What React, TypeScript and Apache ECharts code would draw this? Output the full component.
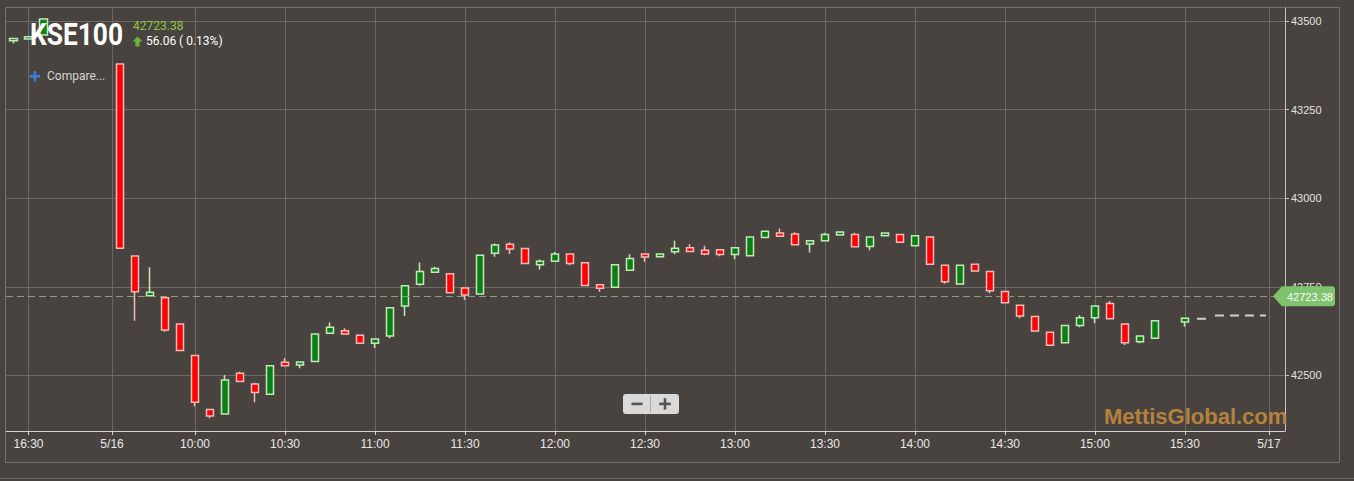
import React, { useEffect, useRef } from 'react';
import * as echarts from 'echarts';

// ---------- texts ----------
const TITLE = 'KSE100';
const LAST_PRICE = 42723.38;
const LAST_PRICE_TEXT = '42723.38';
const CHANGE_TEXT = '56.06 ( 0.13%)';
const COMPARE_TEXT = 'Compare...';
const WATERMARK = 'MettisGlobal.com';

// ---------- previous session candles ----------
const prevTimes = ['16:25', '16:30', '16:35'];
const prevOpen = [43445, 43450, 43461];
const prevClose = [43451, 43456, 43506];
const prevLow = [43437, 43450, 43461];
const prevHigh = [43451, 43456, 43506];

// ---------- 5/16 session candles (5-minute) ----------
const dayTimes = [
  '9:35', '9:40', '9:45', '9:50', '9:55', '10:00', '10:05', '10:10', '10:15', '10:20',
  '10:25', '10:30', '10:35', '10:40', '10:45', '10:50', '10:55', '11:00', '11:05', '11:10',
  '11:15', '11:20', '11:25', '11:30', '11:35', '11:40', '11:45', '11:50', '11:55', '12:00',
  '12:05', '12:10', '12:15', '12:20', '12:25', '12:30', '12:35', '12:40', '12:45', '12:50',
  '12:55', '13:00', '13:05', '13:10', '13:15', '13:20', '13:25', '13:30', '13:35', '13:40',
  '13:45', '13:50', '13:55', '14:00', '14:05', '14:10', '14:15', '14:20', '14:25', '14:30',
  '14:35', '14:40', '14:45', '14:50', '14:55', '15:00', '15:05', '15:10', '15:15', '15:20',
  '15:30',
];
const dayOpen = [
  43379, 42837, 42725, 42719, 42645, 42556, 42404, 42391, 42506, 42476,
  42447, 42537, 42529, 42539, 42619, 42626, 42613, 42591, 42611, 42696,
  42757, 42791, 42787, 42747, 42730, 42845, 42870, 42858, 42812, 42822,
  42843, 42818, 42756, 42749, 42797, 42843, 42835, 42849, 42860, 42853,
  42855, 42841, 42838, 42889, 42902, 42899, 42871, 42880, 42896, 42898,
  42864, 42894, 42898, 42866, 42891, 42811, 42758, 42814, 42793, 42737,
  42698, 42666, 42622, 42592, 42641, 42663, 42703, 42645, 42595, 42605,
  42651,
];
const dayClose = [
  42859, 42736, 42735, 42628, 42570, 42424, 42385, 42487, 42483, 42452,
  42527, 42527, 42538, 42617, 42636, 42617, 42591, 42603, 42691, 42753,
  42793, 42802, 42733, 42727, 42839, 42868, 42857, 42816, 42822, 42843,
  42816, 42754, 42746, 42812, 42830, 42834, 42843, 42859, 42850, 42843,
  42841, 42860, 42891, 42907, 42893, 42869, 42880, 42898, 42905, 42863,
  42891, 42902, 42876, 42894, 42814, 42764, 42811, 42795, 42739, 42705,
  42668, 42625, 42585, 42641, 42663, 42696, 42660, 42592, 42611, 42654,
  42661,
];
const dayLow = [
  42859, 42654, 42725, 42623, 42570, 42412, 42379, 42391, 42483, 42424,
  42447, 42527, 42520, 42539, 42619, 42617, 42589, 42577, 42605, 42668,
  42753, 42791, 42733, 42713, 42730, 42835, 42843, 42816, 42799, 42822,
  42811, 42754, 42736, 42749, 42797, 42821, 42835, 42842, 42850, 42839,
  42836, 42828, 42838, 42889, 42893, 42869, 42847, 42880, 42896, 42863,
  42853, 42894, 42876, 42866, 42814, 42759, 42758, 42795, 42732, 42705,
  42661, 42625, 42585, 42592, 42636, 42647, 42660, 42586, 42591, 42605,
  42637,
];
const dayHigh = [
  43379, 42837, 42805, 42719, 42645, 42556, 42404, 42501, 42510, 42479,
  42527, 42549, 42538, 42617, 42649, 42633, 42613, 42603, 42691, 42753,
  42819, 42807, 42787, 42747, 42839, 42872, 42876, 42858, 42827, 42848,
  42843, 42818, 42756, 42812, 42842, 42843, 42843, 42880, 42870, 42866,
  42855, 42860, 42891, 42907, 42915, 42904, 42880, 42903, 42905, 42903,
  42891, 42902, 42898, 42894, 42891, 42811, 42811, 42814, 42793, 42737,
  42698, 42666, 42622, 42641, 42670, 42696, 42710, 42645, 42611, 42654,
  42661,
];

// after-close projection (dashed)
const projTimes = ['15:34', '15:37', '15:38', '15:40', '15:57'];
const projValues = [42660, 42660, null, 42669, 42669];

// ---------- axis ticks ----------
const yTicks = [42500, 42750, 43000, 43250, 43500];
const xTickLabels = [
  '16:30', '5/16', '10:00', '10:30', '11:00', '11:30', '12:00', '12:30',
  '13:00', '13:30', '14:00', '14:30', '15:00', '15:30', '5/17',
];

// ---------- slot mapping (1 slot = 5 minutes, gaps between sessions compressed) ----------
const toMin = (t: string) => {
  const [h, m] = t.split(':').map(Number);
  return h * 60 + m;
};
const DAY_REF = toMin('10:00');
const PREV_ANCHOR = -11.1; // slot of previous session's 16:30
const DAY_START_MARK = -5.53; // date label 5/16
const DAY_END_MARK = 71.6; // date label 5/17
const daySlot = (t: string) => (toMin(t) - DAY_REF) / 5;
const prevSlot = (t: string) => PREV_ANCHOR + (toMin(t) - toMin('16:30')) / 5;

const tickPos = (label: string, i: number) => {
  if (label.includes('/')) return i === 1 ? DAY_START_MARK : DAY_END_MARK;
  if (i === 0) return prevSlot(label);
  return daySlot(label);
};
const xTickPos = xTickLabels.map((l, i) => tickPos(l, i));

const candleData = [
  ...prevTimes.map((t, i) => [prevSlot(t), prevOpen[i], prevClose[i], prevLow[i], prevHigh[i]]),
  ...dayTimes.map((t, i) => [daySlot(t), dayOpen[i], dayClose[i], dayLow[i], dayHigh[i]]),
];
const projData = projTimes.map((t, i) => [daySlot(t), projValues[i]]);

const AXIS_FONT = 'Arial, "Liberation Sans", Helvetica, sans-serif';

function buildGraphics(yPix: number) {
  const txt = (x: number, y: number, text: string, font: string, fill: string, extra: any = {}) => ({
    type: 'text',
    x,
    y,
    z: 100,
    silent: true,
    ...extra,
    style: {
      text,
      font,
      fill,
      align: 'left',
      verticalAlign: 'middle',
      textAlign: 'left',
      textVerticalAlign: 'middle',
      ...(extra.style || {}),
    },
  });
  return [
    // frame
    {
      type: 'rect', z: 50, silent: true,
      shape: { x: 5.5, y: 7.5, width: 1334, height: 455 },
      style: { fill: 'none', stroke: '#77716b', lineWidth: 1 },
    },
    {
      type: 'line', z: 50, silent: true,
      shape: { x1: 0, y1: 478.5, x2: 1354, y2: 478.5 },
      style: { stroke: '#6c6660', lineWidth: 1 },
    },
    // title block
    txt(30, 34, TITLE, 'bold 31px Roboto, "Noto Sans", sans-serif', '#ffffff', { scaleX: 0.85 }),
    txt(133, 25.5, LAST_PRICE_TEXT, '12px Roboto, "Noto Sans", sans-serif', '#8dc63f'),
    {
      type: 'polygon', z: 100, silent: true,
      shape: { points: [[137.5, 36.5], [142.5, 41.5], [139.6, 41.5], [139.6, 46.5], [135.4, 46.5], [135.4, 41.5], [132.5, 41.5]] },
      style: { fill: '#6cb33f' },
    },
    txt(146, 41, CHANGE_TEXT, '12px Roboto, "Noto Sans", sans-serif', '#ffffff'),
    { type: 'rect', z: 100, silent: true, shape: { x: 29.5, y: 75, width: 10.5, height: 2.6 }, style: { fill: '#3b7ddd' } },
    { type: 'rect', z: 100, silent: true, shape: { x: 33.5, y: 71, width: 2.6, height: 10.6 }, style: { fill: '#3b7ddd' } },
    txt(47, 76, COMPARE_TEXT, '12px Roboto, "Noto Sans", sans-serif', '#d4d4d4'),
    // zoom buttons
    {
      type: 'rect', z: 100, silent: true,
      shape: { x: 623, y: 394, width: 56, height: 20, r: 3 },
      style: { fill: '#d9d9d9' },
    },
    {
      type: 'line', z: 101, silent: true,
      shape: { x1: 650.5, y1: 396, x2: 650.5, y2: 412 },
      style: { stroke: '#a9a9a9', lineWidth: 1 },
    },
    { type: 'rect', z: 101, silent: true, shape: { x: 631.5, y: 402.6, width: 11, height: 2.6 }, style: { fill: '#555555' } },
    { type: 'rect', z: 101, silent: true, shape: { x: 659.2, y: 402.6, width: 11.6, height: 2.6 }, style: { fill: '#555555' } },
    { type: 'rect', z: 101, silent: true, shape: { x: 663.7, y: 398.2, width: 2.6, height: 11.4 }, style: { fill: '#555555' } },
    // watermark
    txt(1104, 416.5, WATERMARK, 'bold 22px "Liberation Sans", Arial, sans-serif', '#b5823e'),
    // last price tag
    {
      type: 'polygon', z: 100, silent: true,
      shape: { points: [[1273, yPix], [1282, yPix - 10], [1282, yPix + 10]] },
      style: { fill: '#7ec46f' },
    },
    {
      type: 'rect', z: 100, silent: true,
      shape: { x: 1281.5, y: yPix - 10, width: 53.5, height: 20, r: [0, 3, 3, 0] },
      style: { fill: '#7ec46f' },
    },
    txt(1287, yPix + 0.5, LAST_PRICE_TEXT, `11px ${AXIS_FONT}`, '#ffffff', { z: 101 }),
  ];
}

export default function App() {
  const ref = useRef<HTMLDivElement>(null);
  useEffect(() => {
    if (!ref.current) return;
    const chart = echarts.init(ref.current, undefined, { renderer: 'svg' });
    const labelFor = (v: number) => {
      for (let i = 0; i < xTickPos.length; i++) {
        if (Math.abs(xTickPos[i] - v) < 1e-6) return xTickLabels[i];
      }
      return '';
    };
    const option: any = {
      animation: false,
      backgroundColor: '#49433f',
      grid: { left: 6, top: 7, right: 69, bottom: 50, containLabel: false },
      xAxis: {
        type: 'value',
        min: -12.6,
        max: 72.67,
        axisLine: { show: true, onZero: false, lineStyle: { color: '#d2d2d2', width: 1 } },
        axisTick: { show: true, customValues: xTickPos, length: 4, lineStyle: { color: '#d2d2d2' } },
        axisLabel: {
          customValues: xTickPos,
          formatter: (v: number) => labelFor(v),
          color: '#e8e8e8',
          fontSize: 12,
          fontFamily: AXIS_FONT,
          margin: 7,
        },
        splitLine: { show: true, lineStyle: { color: '#6f6963', width: 1 } },
      },
      yAxis: {
        type: 'value',
        position: 'right',
        min: 42343,
        max: 43540,
        axisLine: { show: true, onZero: false, lineStyle: { color: '#c4c4c4', width: 1 } },
        axisTick: { show: true, customValues: yTicks, length: 4, lineStyle: { color: '#c4c4c4' } },
        axisLabel: {
          customValues: yTicks,
          formatter: (v: number) => String(v),
          color: '#e2e2e2',
          fontSize: 11,
          fontFamily: AXIS_FONT,
          margin: 6,
        },
        splitLine: { show: true, lineStyle: { color: '#6f6963', width: 1 } },
      },
      series: [
        {
          type: 'candlestick',
          data: candleData,
          barWidth: 8,
          itemStyle: {
            color: '#0b7f16',
            color0: '#ff0000',
            borderColor: '#c2e8b9',
            borderColor0: '#f6b8b8',
            borderWidth: 1.5,
          },
          markLine: {
            silent: true,
            symbol: ['none', 'none'],
            label: { show: false },
            lineStyle: { color: '#8da07a', type: [7, 4], width: 1.2 },
            data: [{ yAxis: LAST_PRICE }],
          },
        },
        {
          type: 'line',
          data: projData,
          symbol: 'none',
          connectNulls: false,
          silent: true,
          lineStyle: { color: '#cfcfcf', width: 2, type: [9, 6] },
        },
      ],
    };
    chart.setOption(option);
    const yPix = chart.convertToPixel({ yAxisIndex: 0 }, LAST_PRICE) as number;
    chart.setOption({ graphic: { elements: buildGraphics(yPix) } });
    return () => chart.dispose();
  }, []);
  return (
    <div
      ref={ref}
      style={{ position: 'fixed', left: 0, top: 0, width: 1354, height: 481 }}
    />
  );
}
